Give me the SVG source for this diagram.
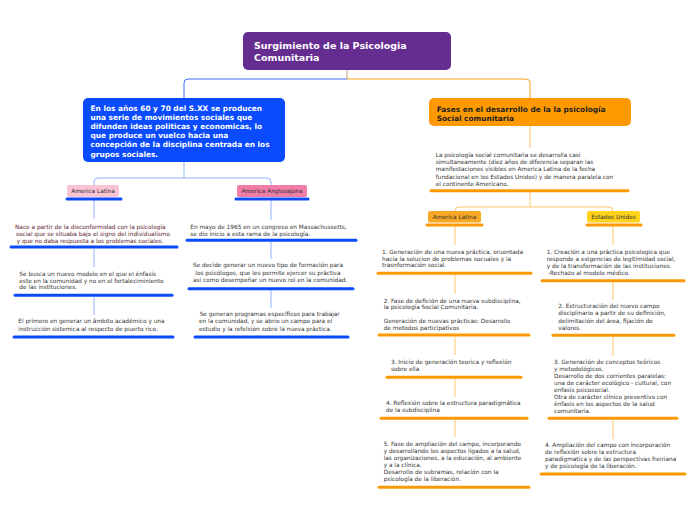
<svg xmlns="http://www.w3.org/2000/svg" width="696" height="520" viewBox="0 0 696 520">
<style>
.t{font-family:"DejaVu Sans",Verdana,sans-serif;font-size:5.8px;fill:#333}
.tr{fill:#5e1a2b}
.tb{font-family:"DejaVu Sans",Verdana,sans-serif;font-size:7.4px;font-weight:bold}
.lbl{font-family:"DejaVu Sans",Verdana,sans-serif;font-size:5.8px;fill:#333}
.ub{stroke:#0a4bff;stroke-width:3;stroke-linecap:round;fill:none}
.uo{stroke:#ff9900;stroke-width:3;stroke-linecap:round;fill:none}
.cb{stroke:#8fb3ff;stroke-width:1;fill:none}
.co{stroke:#ffc56b;stroke-width:1;fill:none}
</style>
<rect width="696" height="520" fill="#ffffff"/>
<g id="connectors">
<path d="M347,70 V79" stroke="#c9a06a" stroke-width="1" fill="none"/>
<path d="M347,79 H188 Q184,79 184,83 V98" stroke="#3a6cff" stroke-width="1" fill="none"/>
<path d="M347,79 H526 Q530,79 530,83 V98" stroke="#f5a623" stroke-width="1" fill="none"/>
<path class="cb" d="M184,162 V178 M184,178 H98 Q94,178 94,182 V185 M184,178 H267 Q271,178 271,182 V185"/>
<path class="cb" d="M94,200 V219 M94,249 V267 M94,297 V315"/>
<path class="cb" d="M271,200 V220 M271,242 V259 M271,290 V308"/>
<path class="co" d="M530,126 V148 M530,192 V207 M530,207 H459 Q455,207 455,211 M530,207 H609 Q613,207 613,211"/>
<path class="co" d="M455,226 V245 M455,275 V294 M455,337 V355 M455,379 V397 M455,420 V437"/>
<path class="co" d="M613,226 V245 M613,282 V300 M613,337 V356 M613,420 V439"/>
</g>
<g id="title">
<rect x="243" y="32" width="208" height="38" rx="5" fill="#662d91"/>
<text font-family="DejaVu Sans,Verdana,sans-serif" font-size="9.5" font-weight="bold" fill="#ffffff"><tspan x="254" y="48.7">Surgimiento de la Psicologia</tspan><tspan x="254" y="61.3">Comunitaria</tspan></text>
</g>
<g id="blue-box">
<rect x="83" y="98" width="202" height="64" rx="5" fill="#0a4bff"/>
<text class="tb" fill="#ffffff"><tspan x="90.5" y="111">En los años 60 y 70 del S.XX se producen</tspan><tspan x="90.5" y="120.1">una serie de movimientos sociales que</tspan><tspan x="90.5" y="129.2">difunden ideas politicas y economicas, lo</tspan><tspan x="90.5" y="138.3">que produce un vuelco hacia una</tspan><tspan x="90.5" y="147.4">concepción de la disciplina centrada en los</tspan><tspan x="90.5" y="156.5">grupos sociales.</tspan></text>
</g>
<g id="orange-box">
<rect x="429" y="98" width="202" height="28" rx="5" fill="#ff9900"/>
<text class="tb" fill="#222"><tspan x="436.7" y="111.5">Fases en el desarrollo de la la psicología</tspan><tspan x="436.7" y="120.7">Social comunitaria</tspan></text>
</g>
<g id="paragraph">
<text class="t"><tspan x="435.7" y="157">La psicología social comunitaria se desarrolla casi</tspan><tspan x="435.7" y="164.2">simultaneamente (diez años de diferencia separan las</tspan><tspan x="435.7" y="171.4">manifestaciones visibles en America Latina de la fecha</tspan><tspan x="435.7" y="178.6">fundacional en los Estados Unidos) y de manera paralela con</tspan><tspan x="435.7" y="185.8">el continente Americano.</tspan></text>
<line class="uo" x1="431" y1="190.7" x2="628" y2="190.7"/>
</g>
<g id="label-al-left">
<rect x="67" y="185" width="52" height="12" rx="2" fill="#f9c4d4"/>
<text class="lbl" x="93" y="193.3" text-anchor="middle">America Latina</text>
<line class="ub" x1="67" y1="199" x2="121" y2="199"/>
</g>
<g id="label-anglo">
<rect x="237" y="185" width="70" height="12" rx="2" fill="#f27ea8"/>
<text class="lbl" x="272" y="193.3" text-anchor="middle">America Anglosajona</text>
<line class="ub" x1="236" y1="199" x2="308" y2="199"/>
</g>
<g id="l1">
<text class="t tr"><tspan x="15" y="228.8">Nace a partir de la disconformidad con la psicología</tspan><tspan x="16" y="235.8">social que se situaba bajo el signo del individualismo</tspan><tspan x="16.7" y="242.8">y que no daba respuesta a los problemas sociales.</tspan></text>
<line class="ub" x1="11" y1="247" x2="177" y2="247"/>
</g>
<g id="l2">
<text class="t"><tspan x="19.3" y="275.6">Se busca un nuevo modelo en el que el énfasis</tspan><tspan x="19.3" y="282.6">este en la comunidad y no en el fortaleciminiento</tspan><tspan x="19.3" y="289.4">de las instituciones.</tspan></text>
<line class="ub" x1="15" y1="295.3" x2="172" y2="295.3"/>
</g>
<g id="l3">
<text class="t"><tspan x="18.3" y="323.3">El primero en generar un ámbito académico y una</tspan><tspan x="18.3" y="330.6">instrucción sistemica al respecto de puerto rico.</tspan></text>
<line class="ub" x1="14" y1="337" x2="173" y2="337"/>
</g>
<g id="m1">
<text class="t"><tspan x="190.3" y="229">En mayo de 1965 en un congreso en Massachussetts,</tspan><tspan x="190.3" y="235.7">se dio inicio a esta rama de la psicología.</tspan></text>
<line class="ub" x1="187" y1="240.3" x2="356" y2="240.3"/>
</g>
<g id="m2">
<text class="t"><tspan x="193" y="267.3">Se decide generar un nuevo tipo de formación para</tspan><tspan x="195.3" y="274.7">los psicólogos, que les permite ejercer su práctica</tspan><tspan x="193" y="282">asi como desempeñar un nuevo rol en la comunidad.</tspan></text>
<line class="ub" x1="189" y1="288.7" x2="353" y2="288.7"/>
</g>
<g id="m3">
<text class="t"><tspan x="199.7" y="316.3">Se generan programas específicos para trabajar</tspan><tspan x="199" y="323.3">en la comunidad, y se abrio un campo para el</tspan><tspan x="199" y="330.7">estudio y la refelxión sobre la nueva práctica.</tspan></text>
<line class="ub" x1="195" y1="337" x2="348" y2="337"/>
</g>
<g id="label-al-right">
<rect x="428" y="211" width="53" height="11.5" rx="2" fill="#f9a825"/>
<text class="lbl" x="454.5" y="219.3" text-anchor="middle">America Latina</text>
<line class="uo" x1="427" y1="225" x2="482" y2="225"/>
</g>
<g id="label-eu">
<rect x="587" y="211" width="53" height="11.5" rx="2" fill="#ffd21c"/>
<text class="lbl" x="613.5" y="219.3" text-anchor="middle">Estados Unidos</text>
<line class="uo" x1="587" y1="225" x2="641" y2="225"/>
</g>
<g id="r1">
<text class="t"><tspan x="382" y="253.7">1. Generación de una nueva práctica, oruentada</tspan><tspan x="382" y="260.5">hacia la solucion de problemas socuales y la</tspan><tspan x="382" y="267.3">trasnformación social.</tspan></text>
<line class="uo" x1="378" y1="273.3" x2="531" y2="273.3"/>
</g>
<g id="r2">
<text class="t"><tspan x="383.7" y="302.7">2. Fase de defición de una nueva subdisciplina,</tspan><tspan x="383.7" y="309.3">la psicología Social Comunitaria.</tspan><tspan x="383.7" y="322.7">Generación de nuevas prácticas: Desarrollo</tspan><tspan x="383.7" y="329.7">de metodos participativos</tspan></text>
<line class="uo" x1="379" y1="335" x2="529" y2="335"/>
</g>
<g id="r3">
<text class="t"><tspan x="391" y="363.7">3. Inicio de generación teorica y reflexión</tspan><tspan x="391" y="370.7">sobre ella</tspan></text>
<line class="uo" x1="387" y1="377.3" x2="521" y2="377.3"/>
</g>
<g id="r4">
<text class="t"><tspan x="386" y="405.3">4. Reflexión sobre la estructura paradigmática</tspan><tspan x="386" y="412">de la subdisciplina</tspan></text>
<line class="uo" x1="381" y1="418.3" x2="527" y2="418.3"/>
</g>
<g id="r5">
<text class="t"><tspan x="383.7" y="446">5. Fase de ampliación del campo, incorporando</tspan><tspan x="383.7" y="453.1">y desarrollando los aspectos ligados a la salud,</tspan><tspan x="383.7" y="460.2">las organizaciones, a la educación, al ambiente</tspan><tspan x="383.7" y="467.3">y a la clínica.</tspan><tspan x="383.7" y="474.4">Desarrollo de subramas, relación con la</tspan><tspan x="383.7" y="481.3">psicología de la liberación.</tspan></text>
<line class="uo" x1="379" y1="487.3" x2="529" y2="487.3"/>
</g>
<g id="e1">
<text class="t"><tspan x="546.7" y="253.7">1. Creación a una práctica psicologica que</tspan><tspan x="546.7" y="260.7">responde a exigencias de legitimidad social,</tspan><tspan x="546.7" y="267.7">y de la transformación de las instituciones.</tspan><tspan x="548" y="275">-Rechazo al modelo médico.</tspan></text>
<line class="uo" x1="542" y1="280.7" x2="684" y2="280.7"/>
</g>
<g id="e2">
<text class="t"><tspan x="558.3" y="308">2. Estructuración del nuevo campo</tspan><tspan x="558.3" y="315.3">disciplinario a partir de su definición,</tspan><tspan x="558.3" y="322.7">delimitación del área, fijación de</tspan><tspan x="558.3" y="329.7">valores.</tspan></text>
<line class="uo" x1="553" y1="335.3" x2="674" y2="335.3"/>
</g>
<g id="e3">
<text class="t"><tspan x="554" y="364.3">3. Generación de conceptos teóricos</tspan><tspan x="554" y="371.2">y metodológicos.</tspan><tspan x="554" y="378.1">Desarrollo de dos corrientes paralelas:</tspan><tspan x="554" y="385">una de carácter ecológico - cultural, con</tspan><tspan x="554" y="391.9">enfasis psicosocial.</tspan><tspan x="554" y="398.8">Otra de carácter clínico preventivo con</tspan><tspan x="554" y="405.7">énfasis en los aspectos de la salud</tspan><tspan x="554" y="412.6">comunitaria.</tspan></text>
<line class="uo" x1="549" y1="418.3" x2="677" y2="418.3"/>
</g>
<g id="e4">
<text class="t"><tspan x="545" y="447">4. Ampliación del campo con incorporación</tspan><tspan x="545" y="454">de reflexión sobre la estructura</tspan><tspan x="545" y="460.8">paradigmatica y de las perspectivas freiriana</tspan><tspan x="545" y="467.7">y de psicología de la liberación.</tspan></text>
<line class="uo" x1="541" y1="474" x2="685" y2="474"/>
</g>
</svg>
